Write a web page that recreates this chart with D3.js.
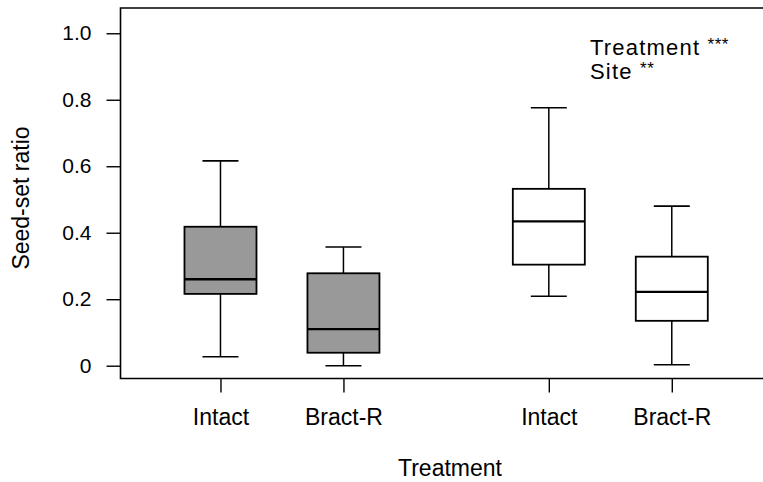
<!DOCTYPE html>
<html>
<head>
<meta charset="utf-8">
<script src="https://cdn.jsdelivr.net/npm/d3@7"></script>
<style>
body { margin: 0; background: #fff; }
text { font-family: "Liberation Sans", Arial, sans-serif; fill: #000; }
</style>
</head>
<body>
<div id="chart"></div>
<script>
// treatment labels and where the boxes sit on the x axis
var labels = ["Intact", "Bract-R", "Intact", "Bract-R"]
var positions = [1, 2, 3.67, 4.67]
var fills = ["#999999", "#999999", "#ffffff", "#ffffff"]
// five-number summaries
var whiskerLow = [0.027, 0.0, 0.209, 0.003]
var q1 = [0.216, 0.039, 0.304, 0.135]
var median = [0.260, 0.110, 0.434, 0.222]
var q3 = [0.418, 0.278, 0.532, 0.328]
var whiskerHigh = [0.616, 0.357, 0.776, 0.480]
var yTicks = [0, 0.2, 0.4, 0.6, 0.8, 1.0]
var notes = ["Treatment ***", "Site **"]

var W = 763, H = 482
var margin = { top: 8, bottom: 103.5, left: 120.5, right: -17 }
var svg = d3.select("#chart").append("svg").attr("width", W).attr("height", H)

var x = d3.scaleLinear().domain([0.187, 5.55]).range([margin.left, W - margin.right])
var y = d3.scaleLinear().domain([-0.0385, 1.076]).range([H - margin.bottom, margin.top])
var boxW = 72
var font = "\"Liberation Sans\", Arial, sans-serif"

var data = labels.map(function(d, i) {
    return { label: d, pos: positions[i], fill: fills[i], lo: whiskerLow[i], q1: q1[i], med: median[i], q3: q3[i], hi: whiskerHigh[i] }
})

// frame (right side runs off the picture)
var frame = svg.append("g").attr("stroke", "#000").attr("stroke-width", 1.6).attr("fill", "none")
frame.append("path").attr("d", "M" + W + "," + y.range()[1] + "H" + margin.left + "V" + y.range()[0] + "H" + W)

// y axis
var yAxis = svg.append("g").attr("transform", "translate(" + margin.left + ",0)")
    .call(d3.axisLeft(y).tickValues(yTicks).tickSize(14).tickPadding(15).tickFormat(function(d) { return d === 0 ? "0" : d3.format(".1f")(d) }))
yAxis.select(".domain").remove()
yAxis.selectAll("line").attr("stroke", "#000").attr("stroke-width", 1.4)
yAxis.selectAll("text").style("font-size", "21px").style("font-family", font)

// x axis
var xAxis = svg.append("g").attr("transform", "translate(0," + y.range()[0] + ")")
    .call(d3.axisBottom(x).tickValues(positions).tickSize(14).tickPadding(16).tickFormat(function(d, i) { return labels[i] }))
xAxis.select(".domain").remove()
xAxis.selectAll("line").attr("stroke", "#000").attr("stroke-width", 1.4)
xAxis.selectAll("text").style("font-size", "23px").style("font-family", font)

// boxes
var box = svg.selectAll(".box").data(data).enter().append("g").attr("class", "box")
box.append("line")
    .attr("x1", function(d) { return x(d.pos) }).attr("x2", function(d) { return x(d.pos) })
    .attr("y1", function(d) { return y(d.hi) }).attr("y2", function(d) { return y(d.lo) })
    .attr("stroke", "#000").attr("stroke-width", 1.5)
box.selectAll(".cap").data(function(d) { return [[d.pos, d.hi], [d.pos, d.lo]] }).enter().append("line")
    .attr("x1", function(d) { return x(d[0]) - boxW / 4 }).attr("x2", function(d) { return x(d[0]) + boxW / 4 })
    .attr("y1", function(d) { return y(d[1]) }).attr("y2", function(d) { return y(d[1]) })
    .attr("stroke", "#000").attr("stroke-width", 1.6)
box.append("rect")
    .attr("x", function(d) { return x(d.pos) - boxW / 2 })
    .attr("y", function(d) { return y(d.q3) })
    .attr("width", boxW)
    .attr("height", function(d) { return y(d.q1) - y(d.q3) })
    .attr("fill", function(d) { return d.fill })
    .attr("stroke", "#000").attr("stroke-width", 1.8)
box.append("line")
    .attr("x1", function(d) { return x(d.pos) - boxW / 2 }).attr("x2", function(d) { return x(d.pos) + boxW / 2 })
    .attr("y1", function(d) { return y(d.med) }).attr("y2", function(d) { return y(d.med) })
    .attr("stroke", "#000").attr("stroke-width", 2.4)

// axis titles
svg.append("text").attr("x", 450).attr("y", 476).attr("text-anchor", "middle").style("font-size", "23px").text("Treatment")
svg.append("text").attr("transform", "translate(29,198) rotate(-90)")
    .attr("text-anchor", "middle").style("font-size", "23px").text("Seed-set ratio")

// significance notes
svg.selectAll(".note").data(notes).enter().append("text").attr("class", "note")
    .attr("x", 590).attr("y", function(d, i) { return 55 + i * 24 })
    .style("font-size", "22px").style("letter-spacing", "1.2px")
    .each(function(d) {
        var parts = d.split(" ")
        var t = d3.select(this)
        t.append("tspan").text(parts[0] + " ")
        t.append("tspan").attr("dy", -5).style("font-size", "17px").style("letter-spacing", "0.5px").text(parts[1])
    })
</script>
</body>
</html>
